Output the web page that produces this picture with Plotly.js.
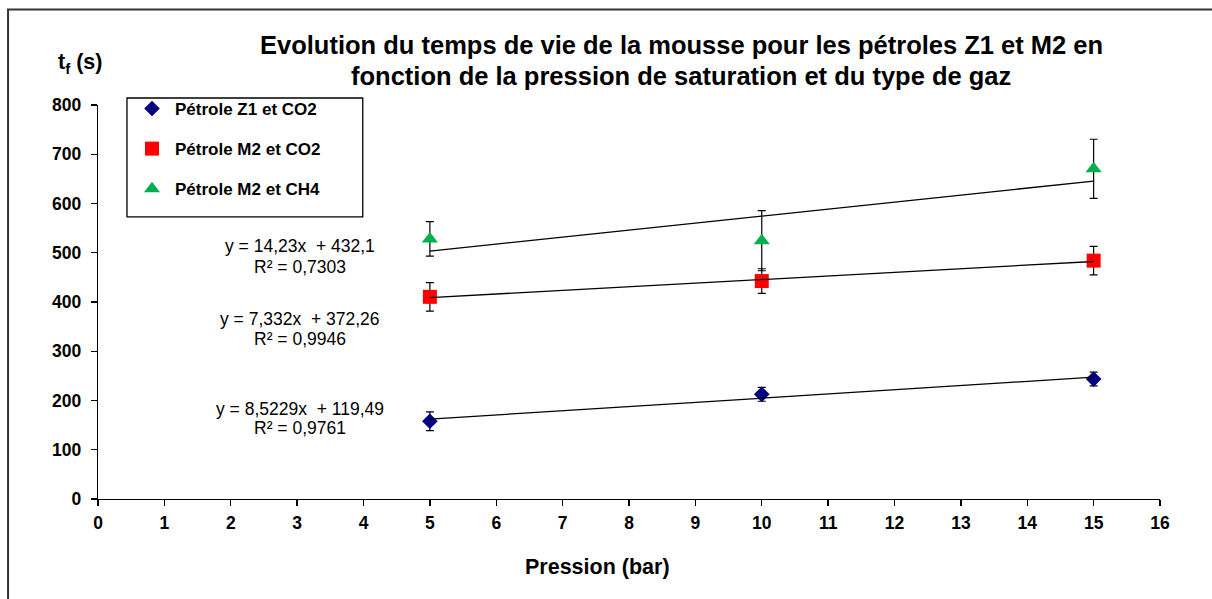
<!DOCTYPE html>
<html>
<head>
<meta charset="utf-8">
<script src="https://cdn.plot.ly/plotly-3.0.1.min.js"></script>
<style>
html,body{margin:0;padding:0;background:#fff;}
#chart{width:1212px;height:599px;}
</style>
</head>
<body>
<div id="chart"></div>
<script>
// ---- data ----
const pressures = [5, 10, 15];
const seriesNames = ["Pétrole Z1 et CO2", "Pétrole M2 et CO2", "Pétrole M2 et CH4"];
const z1co2 = [158, 212.5, 243.5];
const m2co2 = [410.5, 442.5, 484];
const m2ch4 = [528, 524.5, 670.5];
const z1co2Err = [19, 14, 14];
const m2co2Err = [29, 25, 29];
const m2ch4Err = [35, 61, 60];
const trendSlopes = [8.5229, 7.332, 14.23];
const trendIntercepts = [119.49, 372.26, 432.1];
const trendEquations = ["y = 8,5229x  + 119,49", "y = 7,332x  + 372,26", "y = 14,23x  + 432,1"];
const trendR2 = ["R² = 0,9761", "R² = 0,9946", "R² = 0,7303"];
const xTicks = [0,1,2,3,4,5,6,7,8,9,10,11,12,13,14,15,16];
const yTicks = [0,100,200,300,400,500,600,700,800];
const titleLines = ["Evolution du temps de vie de la mousse pour les pétroles Z1 et M2 en",
                    "fonction de la pression de saturation et du type de gaz"];

const FONT = "'Liberation Sans', Arial, sans-serif";
const colors = ["#000080", "#FF0000", "#00B050"];
const symbols = ["diamond", "square", "triangle-up"];
const sizes = [12, 14, 14];
const values = [z1co2, m2co2, m2ch4];
const errs = [z1co2Err, m2co2Err, m2ch4Err];

const traces = [];
for (let i = 0; i < 3; i++) {
  traces.push({
    type: "scatter", mode: "markers", name: seriesNames[i],
    x: pressures, y: values[i], legendgroup: "g" + i,
    marker: {symbol: symbols[i], size: sizes[i], color: colors[i], line: {width: 0}},
    error_y: {type: "data", array: errs[i], visible: true, color: "#000", thickness: 1.2, width: 4},
    cliponaxis: false
  });
}
const xMin = Math.min(...pressures), xMax = Math.max(...pressures);
for (let i = 0; i < 3; i++) {
  traces.push({
    type: "scatter", mode: "lines", showlegend: false, hoverinfo: "skip",
    x: [xMin, xMax],
    y: [trendSlopes[i] * xMin + trendIntercepts[i], trendSlopes[i] * xMax + trendIntercepts[i]],
    line: {color: "#000", width: 1.3}
  });
}

// annotation positions (paper coords)
const eqY = [0.2283, 0.4565, 0.6416];
const r2Y = [0.1801, 0.4058, 0.5884];
const annotations = [];
for (let i = 0; i < 3; i++) {
  annotations.push({xref: "paper", yref: "paper", x: 0.190, y: eqY[i], text: trendEquations[i],
    showarrow: false, xanchor: "center", yanchor: "middle", font: {family: FONT, size: 17.5, color: "#000"}});
  annotations.push({xref: "paper", yref: "paper", x: 0.190, y: r2Y[i], text: trendR2[i],
    showarrow: false, xanchor: "center", yanchor: "middle", font: {family: FONT, size: 17.5, color: "#000"}});
}
annotations.push({xref: "paper", yref: "paper", x: 0.5490, y: 1.1527, text: titleLines[0],
  showarrow: false, xanchor: "center", yanchor: "middle", font: {family: FONT, size: 25.5, color: "#000", weight: "bold"}});
annotations.push({xref: "paper", yref: "paper", x: 0.5490, y: 1.0746, text: titleLines[1],
  showarrow: false, xanchor: "center", yanchor: "middle", font: {family: FONT, size: 25.5, color: "#000", weight: "bold"}});
annotations.push({xref: "paper", yref: "paper", x: -0.0400, y: 1.1057, text: "t<sub>f</sub> (s)",
  showarrow: false, xanchor: "left", yanchor: "middle", font: {family: FONT, size: 21.5, color: "#000", weight: "bold"}});
annotations.push({xref: "paper", yref: "paper", x: 0.4699, y: -0.1725, text: "Pression (bar)",
  showarrow: false, xanchor: "center", yanchor: "middle", font: {family: FONT, size: 21.5, color: "#000", weight: "bold"}});

const layout = {
  width: 1212, height: 599,
  margin: {l: 98, r: 52, t: 105, b: 100, pad: 0},
  paper_bgcolor: "#fff", plot_bgcolor: "#fff",
  showlegend: true,
  legend: {x: 0.0292, y: 1.0356, xanchor: "left", yanchor: "top", traceorder: "grouped", tracegroupgap: 15,
    itemwidth: 36,
    bgcolor: "rgba(0,0,0,0)", borderwidth: 0, font: {family: FONT, size: 17, color: "#000", weight: "bold"}},
  xaxis: {range: [0, 16], tickvals: xTicks, ticktext: xTicks.map(String), showgrid: false, zeroline: false,
    showline: true, linecolor: "#000", linewidth: 1.3, ticks: "outside", ticklen: 6, tickcolor: "#000", tickwidth: 1.3,
    ticklabelstandoff: 2, tickfont: {family: FONT, size: 17.5, color: "#000", weight: "bold"}, fixedrange: true},
  yaxis: {range: [0, 800], tickvals: yTicks, ticktext: yTicks.map(String), showgrid: false, zeroline: false,
    showline: true, linecolor: "#000", linewidth: 1.3, ticks: "outside", ticklen: 6, tickcolor: "#000", tickwidth: 1.3,
    ticklabelstandoff: 6, tickfont: {family: FONT, size: 17.5, color: "#000", weight: "bold"}, fixedrange: true},
  annotations: annotations,
  shapes: [
    {type: "rect", xref: "paper", yref: "paper", x0: 0.0273, x1: 0.2493, y0: 0.716, y1: 1.0178,
      line: {color: "#000", width: 1.3}, fillcolor: "rgba(0,0,0,0)", layer: "below"},
    {type: "rect", xref: "paper", yref: "paper", x0: -0.0847, x1: 1.07, y0: -0.30, y1: 1.2427,
      line: {color: "#333", width: 2}, fillcolor: "rgba(0,0,0,0)"}
  ]
};

Plotly.newPlot("chart", traces, layout, {displayModeBar: false, staticPlot: true});
</script>
</body>
</html>
